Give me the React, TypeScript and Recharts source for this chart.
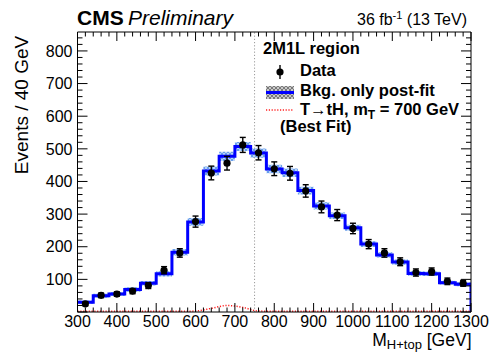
import {
  ComposedChart,
  XAxis,
  YAxis,
  Line,
  Area,
  Scatter,
  ErrorBar,
  ReferenceLine,
} from "recharts";

// 40 GeV bins from 300 to 1300 GeV
const binLow = [
  300, 340, 380, 420, 460, 500, 540, 580, 620, 660, 700, 740, 780, 820, 860,
  900, 940, 980, 1020, 1060, 1100, 1140, 1180, 1220, 1260,
];
const binCenter = [
  320, 360, 400, 440, 480, 520, 560, 600, 640, 680, 720, 760, 800, 840, 880,
  920, 960, 1000, 1040, 1080, 1120, 1160, 1200, 1240, 1280,
];

// background-only post-fit prediction and its uncertainty
const bkgFit = [
  30, 50, 55, 69, 88, 117, 183, 276, 432, 477, 507, 487, 438, 427, 372, 325,
  295, 258, 208, 175, 153, 118, 117, 90, 85,
];
const bkgUnc = [
  5, 6, 6, 7, 7, 8, 10, 12, 14, 14, 14, 14, 13, 13, 12, 11, 10, 9, 9, 8, 8, 7,
  7, 6, 6,
];

// observed events and stat errors
const dataObs = [
  25, 51, 55, 64, 81, 128, 181, 277, 426, 456, 512, 488, 439, 425, 371, 322,
  297, 256, 208, 181, 154, 121, 124, 94, 88,
];
const dataErr = [
  6, 7, 7, 8, 9, 11, 13, 17, 21, 21, 23, 22, 21, 21, 19, 18, 17, 16, 14, 13,
  12, 11, 11, 10, 9,
];

// T -> tH signal, m_T = 700 GeV (best fit)
const signal = [
  2, 2, 2, 2, 2, 2, 2, 3, 11, 20, 14, 3, 2, 2, 2, 2, 2, 2, 2, 2, 2, 2, 2, 2, 2,
];

const X_MIN = 300;
const X_MAX = 1300;
const Y_MAX = 858;
const CUT_X = 750;

const FONT = "'Liberation Sans', Arial, Helvetica, sans-serif";

const lastBin = bkgFit.length - 1;

const bandRows = [
  ...binLow.map((x, i) => ({ x, band: [bkgFit[i] - bkgUnc[i], bkgFit[i] + bkgUnc[i]] })),
  { x: X_MAX, band: [bkgFit[lastBin] - bkgUnc[lastBin], bkgFit[lastBin] + bkgUnc[lastBin]] },
];

const histRows = [
  ...binLow.map((x, i) => ({ x, bkg: bkgFit[i] })),
  { x: X_MAX, bkg: bkgFit[lastBin] },
  { x: X_MAX, bkg: 0 },
];

const dataRows = binCenter.map((x, i) => ({ x, y: dataObs[i], err: dataErr[i] }));

const sigRows = [
  { x: X_MIN, s: signal[0] },
  ...binCenter.map((x, i) => ({ x, s: signal[i] })),
  { x: X_MAX, s: signal[lastBin] },
];

const xTicks: number[] = [];
for (let v = X_MIN; v <= X_MAX; v += 20) xTicks.push(v);
const yTicks: number[] = [];
for (let v = 0; v <= 840; v += 20) yTicks.push(v);

const BottomTick = (props: any) => {
  const { x, y, payload } = props;
  const major = payload.value % 100 === 0;
  return (
    <g>
      <line x1={x} x2={x} y1={y} y2={y - (major ? 9 : 4.5)} stroke="#000" strokeWidth={1} />
      {major && (
        <text x={x} y={y + 14.5} textAnchor="middle" fontSize={16} fontFamily={FONT} fill="#000">
          {payload.value}
        </text>
      )}
    </g>
  );
};

const TopTick = (props: any) => {
  const { x, y, payload } = props;
  const major = payload.value % 100 === 0;
  return <line x1={x} x2={x} y1={y} y2={y + (major ? 9 : 4.5)} stroke="#000" strokeWidth={1} />;
};

const LeftTick = (props: any) => {
  const { x, y, payload } = props;
  const major = payload.value % 100 === 0;
  return (
    <g>
      <line x1={x} x2={x + (major ? 10 : 5)} y1={y} y2={y} stroke="#000" strokeWidth={1} />
      {major && payload.value > 0 && (
        <text x={x - 5} y={y} dy="0.36em" textAnchor="end" fontSize={16} fontFamily={FONT} fill="#000">
          {payload.value}
        </text>
      )}
    </g>
  );
};

const RightTick = (props: any) => {
  const { x, y, payload } = props;
  const major = payload.value % 100 === 0;
  return <line x1={x} x2={x - (major ? 10 : 5)} y1={y} y2={y} stroke="#000" strokeWidth={1} />;
};

const DataDot = (props: any) => {
  const { cx, cy } = props;
  if (cx == null || cy == null) return null;
  return <circle cx={cx} cy={cy} r={3.6} fill="#000" />;
};

const axisLineStyle = { stroke: "#000", strokeWidth: 1 };

export default function App() {
  return (
    <div style={{ position: "absolute", left: 0, top: 0, width: 491, height: 352, background: "#fff" }}>
      <svg width={0} height={0} style={{ position: "absolute" }}>
        <defs>
          <pattern id="bandHatch" width={4} height={4} patternUnits="userSpaceOnUse">
            <rect width={4} height={4} fill="#b9d3f7" />
            <path d="M0,0 L4,4 M4,0 L0,4" stroke="#5f97ea" strokeWidth={0.9} />
          </pattern>
          <pattern id="legendHatch" width={4} height={4} patternUnits="userSpaceOnUse">
            <rect width={4} height={4} fill="#c8c8c8" />
            <path d="M0,0 L4,4 M4,0 L0,4" stroke="#707070" strokeWidth={0.9} />
          </pattern>
        </defs>
      </svg>

      <ComposedChart
        width={491}
        height={352}
        margin={{ top: 31, right: 19, bottom: 39, left: 76.5 }}
      >
        <XAxis
          xAxisId="b"
          dataKey="x"
          type="number"
          domain={[X_MIN, X_MAX]}
          allowDataOverflow
          ticks={xTicks}
          interval={0}
          height={1}
          tickSize={0}
          tickMargin={0}
          tickLine={false}
          axisLine={axisLineStyle}
          tick={BottomTick}
        />
        <XAxis
          xAxisId="t"
          dataKey="x"
          orientation="top"
          type="number"
          domain={[X_MIN, X_MAX]}
          allowDataOverflow
          ticks={xTicks}
          interval={0}
          height={1}
          tickSize={0}
          tickMargin={0}
          tickLine={false}
          axisLine={axisLineStyle}
          tick={TopTick}
        />
        <YAxis
          yAxisId="l"
          type="number"
          domain={[0, Y_MAX]}
          allowDataOverflow
          ticks={yTicks}
          interval={0}
          width={1}
          tickSize={0}
          tickMargin={0}
          tickLine={false}
          axisLine={axisLineStyle}
          tick={LeftTick}
        />
        <YAxis
          yAxisId="r"
          orientation="right"
          type="number"
          domain={[0, Y_MAX]}
          allowDataOverflow
          ticks={yTicks}
          interval={0}
          width={1}
          tickSize={0}
          tickMargin={0}
          tickLine={false}
          axisLine={axisLineStyle}
          tick={RightTick}
        />

        {/* post-fit uncertainty band */}
        <Area
          xAxisId="b"
          yAxisId="l"
          data={bandRows}
          dataKey="band"
          type="stepAfter"
          stroke="none"
          fill="url(#bandHatch)"
          fillOpacity={1}
          isAnimationActive={false}
        />

        <ReferenceLine
          xAxisId="b"
          yAxisId="l"
          x={CUT_X}
          stroke="#9a9a9a"
          strokeWidth={1}
          strokeDasharray="1.2 2"
        />

        {/* background histogram */}
        <Line
          xAxisId="b"
          yAxisId="l"
          data={histRows}
          dataKey="bkg"
          type="stepAfter"
          stroke="#0000ff"
          strokeWidth={3}
          dot={false}
          activeDot={false}
          isAnimationActive={false}
        />

        {/* signal */}
        <Line
          xAxisId="b"
          yAxisId="l"
          data={sigRows}
          dataKey="s"
          type="monotone"
          stroke="#ff2020"
          strokeWidth={1.5}
          strokeDasharray="1.2 1.6"
          dot={false}
          activeDot={false}
          isAnimationActive={false}
        />

        {/* observed data */}
        <Scatter
          xAxisId="b"
          yAxisId="l"
          data={dataRows}
          dataKey="y"
          shape={DataDot}
          isAnimationActive={false}
        >
          <ErrorBar dataKey="err" direction="y" width={3} stroke="#000" strokeWidth={1.4} />
        </Scatter>

        {/* keep top/right axes attached to a series */}
        <Line
          xAxisId="t"
          yAxisId="r"
          data={sigRows}
          dataKey="s"
          stroke="none"
          dot={false}
          activeDot={false}
          isAnimationActive={false}
        />
      </ComposedChart>

      <svg
        width={491}
        height={352}
        style={{ position: "absolute", left: 0, top: 0, pointerEvents: "none" }}
        fontFamily={FONT}
      >
        <text x={77} y={25} fontSize={21} fontWeight="bold">CMS</text>
        <text x={128} y={25} fontSize={21} fontStyle="italic">Preliminary</text>
        <text x={467} y={25} fontSize={16} textAnchor="end">
          36 fb<tspan dy={-6} fontSize={11}>-1</tspan>
          <tspan dy={6}> (13 TeV)</tspan>
        </text>

        <text
          x={27.5}
          y={105}
          fontSize={19}
          textAnchor="middle"
          transform="rotate(-90 27.5 105)"
        >
          Events / 40 GeV
        </text>

        <text x={471.5} y={345.5} fontSize={17.5} textAnchor="end">
          M<tspan dy={3.5} fontSize={13}>H+top</tspan>
          <tspan dy={-3.5}> [GeV]</tspan>
        </text>

        {/* legend */}
        <g fontSize={16.5} fontWeight="bold">
          <text x={263} y={54}>2M1L region</text>

          <line x1={280} x2={280} y1={65} y2={79} stroke="#000" strokeWidth={1.4} />
          <circle cx={280} cy={72} r={3.6} fill="#000" />
          <text x={300} y={76}>Data</text>

          <rect x={266} y={86} width={28} height={13} fill="url(#legendHatch)" />
          <line x1={266} x2={294} y1={92.5} y2={92.5} stroke="#0000ff" strokeWidth={3} />
          <text x={300} y={96}>Bkg. only post-fit</text>

          <line
            x1={266}
            x2={294}
            y1={110}
            y2={110}
            stroke="#ff2020"
            strokeWidth={1.5}
            strokeDasharray="1.2 1.6"
          />
          <text x={300} y={115}>
            T→tH, m<tspan dy={4} fontSize={12}>T</tspan>
            <tspan dy={-4}> = 700 GeV</tspan>
          </text>
          <text x={280} y={132}>(Best Fit)</text>
        </g>
      </svg>
    </div>
  );
}
